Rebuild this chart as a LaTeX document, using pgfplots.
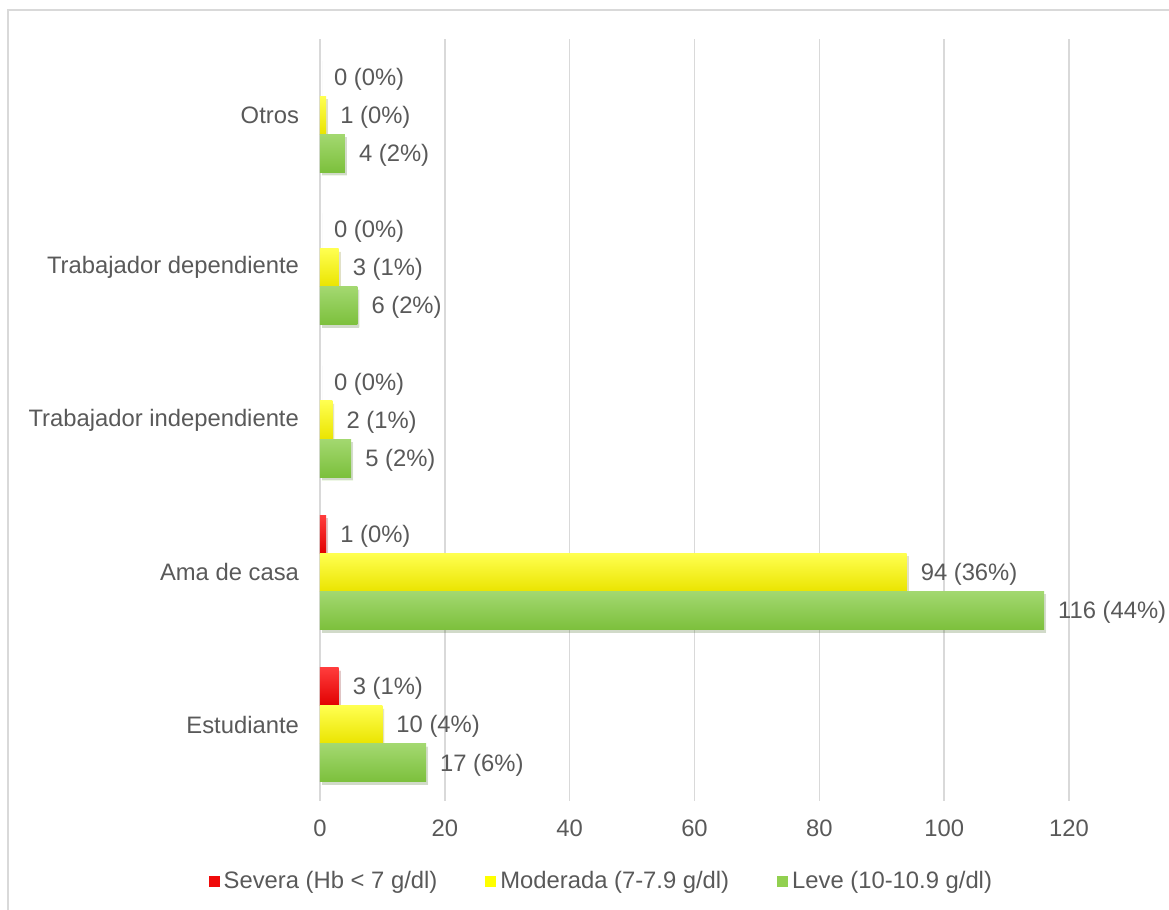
\documentclass[border=0pt]{standalone}
\usepackage{pgfplots}
\pgfplotsset{compat=1.18}
\usepackage{pgfplotstable}
\usepackage{fontspec}
\setmainfont{Liberation Sans}

\definecolor{txt}{RGB}{89,89,89}
\definecolor{gridc}{RGB}{217,217,217}
\definecolor{redT}{RGB}{255,60,60}
\definecolor{redM}{RGB}{240,10,10}
\definecolor{redB}{RGB}{225,0,0}
\definecolor{yelT}{RGB}{255,255,80}
\definecolor{yelM}{RGB}{255,255,0}
\definecolor{yelB}{RGB}{234,228,0}
\definecolor{grnT}{RGB}{163,216,112}
\definecolor{grnM}{RGB}{146,208,80}
\definecolor{grnB}{RGB}{124,192,60}

% anemia grade by occupation: count and share of total
\pgfplotstableread{
cat sev sevp mod modp lev levp
0   3   1    10  4    17  6
1   1   0    94  36   116 44
2   0   0    2   1    5   2
3   0   0    3   1    6   2
4   0   0    1   0    4   2
}\datatable

\newcommand\lbl{\fontsize{11.9}{14}\selectfont}

\pgfplotsset{
  onebar/.style={xbar, forget plot, draw=none,
    restrict expr to domain={\coordindex}{#1:#1},
    preaction={fill=black, fill opacity=0.13,
      transform canvas={xshift=1pt, yshift=-1.5pt}}},
}

\begin{document}
\begin{tikzpicture}
\useasboundingbox (0pt,0pt) rectangle (584.5pt,455pt);
\draw[gridc, line width=0.8pt] (4pt,-3pt) |- (600pt,450pt);
\begin{axis}[
  at={(160pt,54.5pt)}, anchor=south west,
  scale only axis, width=374.5pt, height=381pt,
  xbar, bar width=0.25,
  xmin=0, xmax=120, ymin=-0.5, ymax=4.5,
  xtick={0,20,...,120},
  ytick={0,...,4},
  yticklabels={Estudiante, Ama de casa, Trabajador independiente, Trabajador dependiente, Otros},
  axis line style={draw=none},
  major tick length=0pt,
  xmajorgrids, grid style={gridc, line width=0.8pt},
  ticklabel style={font=\lbl, text=txt},
  xticklabel style={yshift=-6pt},
  yticklabel style={xshift=-7pt},
  /pgf/number format/assume math mode=true,
  clip=false,
  point meta=explicit symbolic,
  nodes near coords style={anchor=west, xshift=3.5pt, yshift=-1pt, font=\lbl, text=txt},
  legend style={at={(0.377,-0.106)}, anchor=center, draw=none, fill=none,
    legend columns=-1, font=\lbl, text=txt,
    /tikz/every even column/.append style={column sep=22pt}},
  legend image code/.code={\fill[draw=none, #1] (0pt,-2.75pt) rectangle (5.5pt,2.75pt);},
]
% one bar per category so that every bar gets its own gradient
\pgfplotsinvokeforeach{0,...,4}{
  \addplot[onebar=#1, bar shift=0.25, top color=redT, middle color=redM, bottom color=redB,
    visualization depends on={\thisrow{sev} \as \val},
    nodes near coords={\pgfmathprintnumber[fixed,precision=0]{\val} (\pgfplotspointmeta\%)}]
    table[x=sev, y=cat, meta=sevp] {\datatable};
  \addplot[onebar=#1, bar shift=0, top color=yelT, middle color=yelM, bottom color=yelB,
    visualization depends on={\thisrow{mod} \as \val},
    nodes near coords={\pgfmathprintnumber[fixed,precision=0]{\val} (\pgfplotspointmeta\%)}]
    table[x=mod, y=cat, meta=modp] {\datatable};
  \addplot[onebar=#1, bar shift=-0.25, top color=grnT, middle color=grnM, bottom color=grnB,
    visualization depends on={\thisrow{lev} \as \val},
    nodes near coords={\pgfmathprintnumber[fixed,precision=0]{\val} (\pgfplotspointmeta\%)}]
    table[x=lev, y=cat, meta=levp] {\datatable};
}
\addlegendimage{fill=redM}
\addlegendimage{fill=yelM}
\addlegendimage{fill=grnM}
\legend{Severa (Hb < 7 g/dl), Moderada (7-7.9 g/dl), Leve (10-10.9 g/dl)}
\end{axis}
\end{tikzpicture}
\end{document}
